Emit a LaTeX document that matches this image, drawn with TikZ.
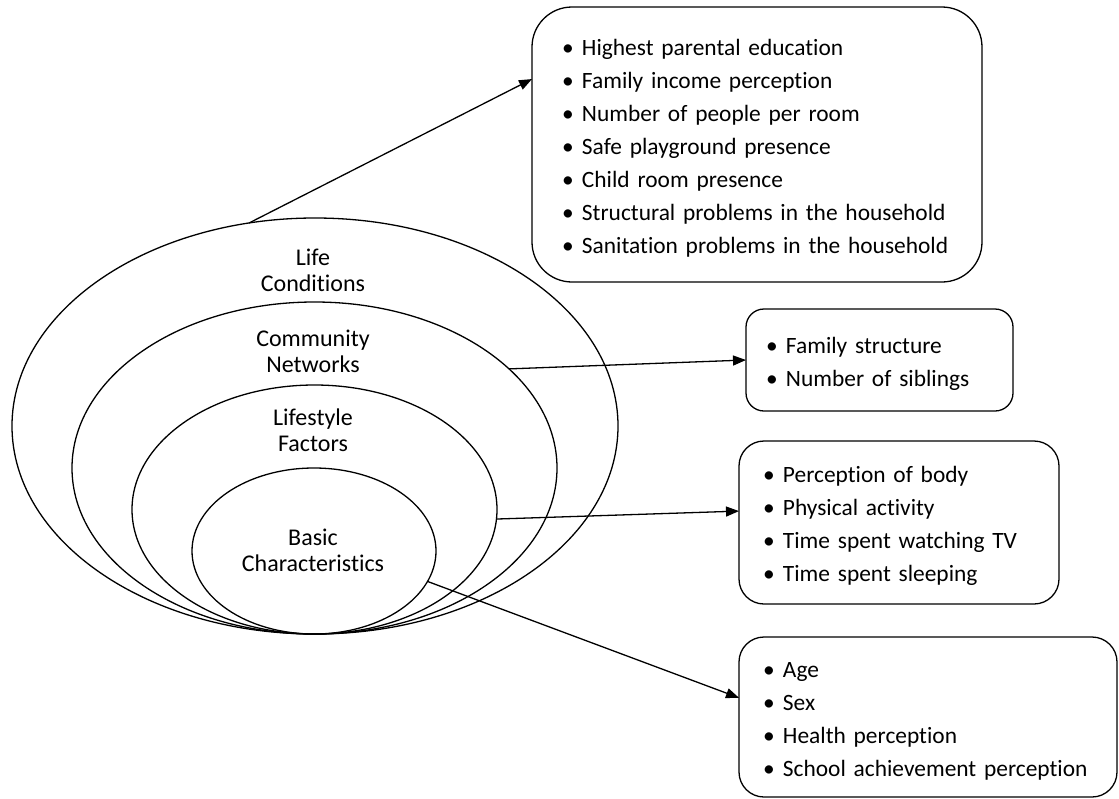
\documentclass[tikz,border=0pt]{standalone}
\usepackage{fontspec}
\setmainfont{Carlito}[Ligatures=NoCommon]
\usetikzlibrary{shapes.geometric,arrows.meta,calc}
\newcommand{\itm}[1]{\mbox{\makebox[20pt][l]{•}#1}}
\newcommand{\firststrut}{\rule{0pt}{24pt}}
\begin{document}
\begin{tikzpicture}[x=1pt,y=-1pt,
 ell/.style={draw, ellipse, line width=1.3pt, inner sep=0pt, outer sep=0pt},
 lbl/.style={font=\fontsize{24}{26}\selectfont, align=center, inner sep=0pt},
 lbox/.style={draw, line width=1.3pt, anchor=north west, align=left, font=\fontsize{23.4}{33}\selectfont, inner ysep=0pt, outer sep=0pt},
 arr/.style={-{Triangle[length=13pt,width=10pt]}, line width=1.3pt}]
\useasboundingbox (0,0) rectangle (1119,798);
% nested ellipses
\node[ell, minimum width=606pt, minimum height=416pt] (e1) at (315,426) {};
\node[ell, minimum width=485pt, minimum height=332pt] (e2) at (314.5,468) {};
\node[ell, minimum width=365pt, minimum height=249pt] (e3) at (314.5,509.5) {};
\node[ell, minimum width=244pt, minimum height=166pt] (e4) at (314,551) {};
% labels
\node[lbl] (lc) at (313,270) {Life\\Conditions};
\node[lbl] (cn) at (313,351) {Community\\Networks};
\node[lbl] (lf) at (313,430.5) {Lifestyle\\Factors};
\node[lbl] (bc) at (313,550.5) {Basic\\Characteristics};
% boxes
\node[lbox, rounded corners=40pt, minimum width=450pt, minimum height=275pt, text width=390pt, inner xsep=30pt] (top) at (532,7)
 {\firststrut\itm{Highest parental education}\\
  \itm{Family income perception}\\
  \itm{Number of people per room}\\
  \itm{Safe playground presence}\\
  \itm{Child room presence}\\
  \itm{Structural problems in the household}\\
  \itm{Sanitation problems in the household}};
\node[lbox, rounded corners=18pt, minimum width=267pt, minimum height=102pt, text width=227pt, inner xsep=20pt] (b2) at (746,309)
 {\firststrut\itm{Family structure}\\
  \itm{Number of siblings}};
\node[lbox, rounded corners=25pt, minimum width=320pt, minimum height=163pt, text width=272pt, inner xsep=24pt] (b3) at (739,441)
 {\firststrut\itm{Perception of body}\\
  \itm{Physical activity}\\
  \itm{Time spent watching TV}\\
  \itm{Time spent sleeping}};
\node[lbox, rounded corners=25pt, minimum width=378pt, minimum height=160pt, text width=330pt, inner xsep=24pt] (b4) at (739,637)
 {\firststrut\itm{Age}\\
  \itm{Sex}\\
  \itm{Health perception}\\
  \itm{School achievement perception}};
% connectors
\draw[arr] (e1.108.7) -- ($(top.north west)!0.262!(top.south west)$);
\draw[arr] (e2.27.2) -- (b2.west);
\draw[arr] (e3.-3) -- ($(b3.north west)!0.43!(b3.south west)$);
\draw[arr] (e4.-15.5) -- ($(b4.north west)!0.38!(b4.south west)$);
\end{tikzpicture}
\end{document}
